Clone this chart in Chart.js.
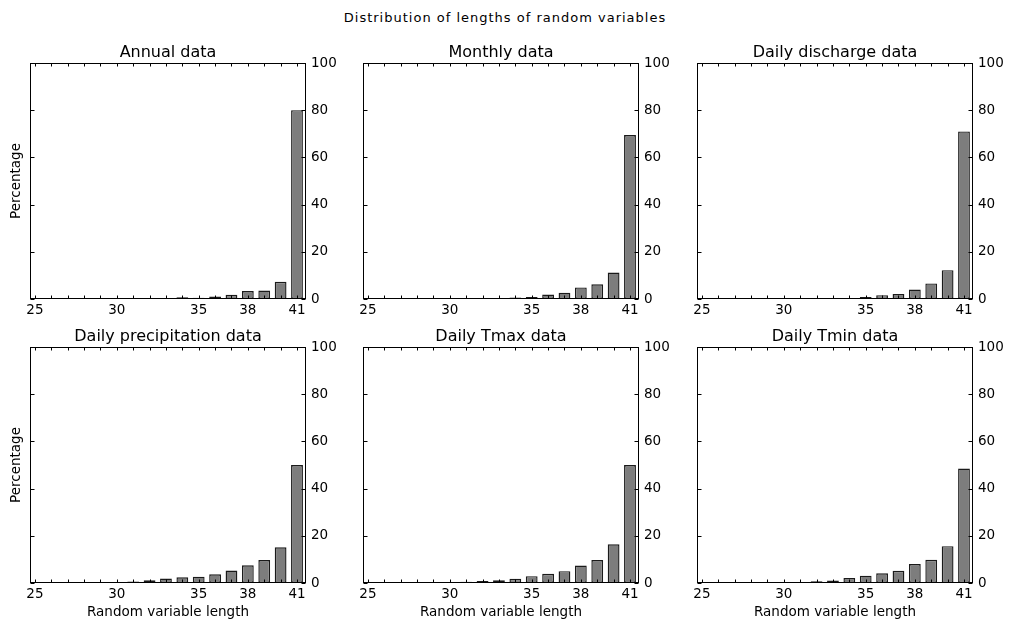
<!DOCTYPE html>
<html><head><meta charset="utf-8">
<script src="https://cdn.jsdelivr.net/npm/chart.js@4.4.0/dist/chart.umd.min.js"></script>
<style>
html,body{margin:0;padding:0;background:#fff;width:1010px;height:623px;overflow:hidden;font-family:"DejaVu Sans",sans-serif;}
#main{position:absolute;left:0;top:10px;width:1010px;text-align:center;font-size:13px;letter-spacing:1px;line-height:16px;color:#000}
.cell{position:absolute;}
</style></head><body>
<div id="main">Distribution of lengths of random variables</div>
<div class="cell" id="c0"><canvas id="k0"></canvas></div>
<div class="cell" id="c1"><canvas id="k1"></canvas></div>
<div class="cell" id="c2"><canvas id="k2"></canvas></div>
<div class="cell" id="c3"><canvas id="k3"></canvas></div>
<div class="cell" id="c4"><canvas id="k4"></canvas></div>
<div class="cell" id="c5"><canvas id="k5"></canvas></div>
<script>
// ---- data ----
const lengths = [25,26,27,28,29,30,31,32,33,34,35,36,37,38,39,40,41];
const xTickLabels = [25,30,35,38,41];
const yTickValues = [0,20,40,60,80,100];
const panelTitles = ["Annual data","Monthly data","Daily discharge data","Daily precipitation data","Daily Tmax data","Daily Tmin data"];
const annual    = [0,0,0,0,0, 0.4,0,0.4,0.4,0.7,0.5,1.1,1.8,3.4,3.6,7.3,80];
const monthly   = [0,0,0,0,0, 0,0,0.3,0.4,0.6,0.9,1.9,2.7,4.9,6.2,11.2,69.5];
const discharge = [0,0,0,0,0, 0,0,0,0.3,0.3,0.8,1.6,2.1,4.0,6.6,12.2,71];
const precip    = [0,0,0,0,0, 0.2,0.6,1.2,1.9,2.4,2.7,3.7,5.3,7.5,9.7,15.1,50];
const tmax      = [0,0,0,0,0, 0.1,0.5,0.8,1.2,1.8,2.9,3.9,5.0,7.4,9.7,16.4,50];
const tmin      = [0,0,0,0,0, 0.1,0.4,0.7,1.1,2.1,3.1,4.1,5.2,8.0,9.8,15.6,48.5];
const seriesList = [annual, monthly, discharge, precip, tmax, tmin];
const xLabel = "Random variable length";
const yLabel = "Percentage";

// ---- layout ----
const colLeft = [30, 363, 697];
const rowTop = [63, 347];
const plotW = 276, plotH = 236;
const FAM = '"DejaVu Sans", sans-serif';

const framePlugin = {
  id: 'frame',
  afterDatasetsDraw(chart) {
    const {ctx, chartArea: a, scales} = chart;
    const x = scales.x, y = scales.y;
    const l = Math.round(a.left)+0.5, r = Math.round(a.right)-0.5, t = Math.round(a.top)+0.5, b = Math.round(a.bottom)-0.5;
    ctx.save();
    ctx.strokeStyle = '#000'; ctx.lineWidth = 1;
    ctx.beginPath();
    lengths.forEach(v => {
      const px = Math.round(x.getPixelForValue(v)) + 0.5;
      ctx.moveTo(px, t); ctx.lineTo(px, t + 3);
      ctx.moveTo(px, b); ctx.lineTo(px, b - 3);
    });
    yTickValues.forEach(v => {
      const py = Math.round(y.getPixelForValue(v)) + 0.5;
      ctx.moveTo(l, py); ctx.lineTo(l + 4, py);
      ctx.moveTo(r, py); ctx.lineTo(r - 4, py);
    });
    ctx.stroke();
    ctx.strokeRect(l, t, r - l, b - t);
    ctx.restore();
  }
};

function makeChart(i) {
  const row = Math.floor(i / 3), col = i % 3;
  const L = 28, T = 28, R = 34, B = row === 1 ? 39 : 20;
  const cell = document.getElementById('c' + i);
  cell.style.left = (colLeft[col] - L) + 'px';
  cell.style.top = (rowTop[row] - T) + 'px';
  cell.style.width = (L + plotW + R) + 'px';
  cell.style.height = (T + plotH + B) + 'px';
  const font13 = {family: FAM, size: 13.5};
  new Chart(document.getElementById('k' + i), {
    type: 'bar',
    data: {datasets: [{
      data: lengths.map((x, k) => ({x: x, y: seriesList[i][k]})),
      backgroundColor: '#7d7d7d', borderColor: '#1a1a1a', borderWidth: 1.4, borderSkipped: false,
      barPercentage: 0.72, categoryPercentage: 1
    }]},
    options: {
      responsive: true, maintainAspectRatio: false, animation: false,
      layout: {padding: 0},
      plugins: {
        legend: {display: false}, tooltip: {enabled: false},
        title: {display: true, text: panelTitles[i], fullSize: false, color: '#000',
          font: {family: FAM, size: 16, weight: 'normal'}, padding: {top: 7.8, bottom: 1}}
      },
      scales: {
        x: {type: 'linear', min: 24.7, max: 41.55, offset: false,
          grid: {display: false, drawTicks: false, offset: false}, border: {display: false},
          afterBuildTicks: s => { s.ticks = xTickLabels.map(v => ({value: v})); },
          ticks: {autoSkip: false, maxRotation: 0, padding: 3, font: font13, color: '#000', callback: v => String(v)},
          title: {display: row === 1, text: xLabel, font: font13, color: '#000', padding: {top: 0, bottom: 1.5}},
          afterFit: s => { s.height = B; }
        },
        y: {position: 'right', min: 0, max: 100,
          grid: {display: false, drawTicks: false}, border: {display: false},
          afterBuildTicks: s => { s.ticks = yTickValues.map(v => ({value: v})); },
          ticks: {padding: 5, font: font13, color: '#000'},
          afterFit: s => { s.width = R; }
        },
        yl: {axis: 'y', position: 'left', min: 0, max: 100,
          grid: {display: false, drawTicks: false}, border: {display: false},
          ticks: {display: false},
          title: {display: col === 0, text: yLabel, font: font13, color: '#000', padding: {top: 6, bottom: 0}},
          afterFit: s => { s.width = L; }
        }
      }
    },
    plugins: [framePlugin]
  });
}
for (let i = 0; i < 6; i++) makeChart(i);
</script>
</body></html>
